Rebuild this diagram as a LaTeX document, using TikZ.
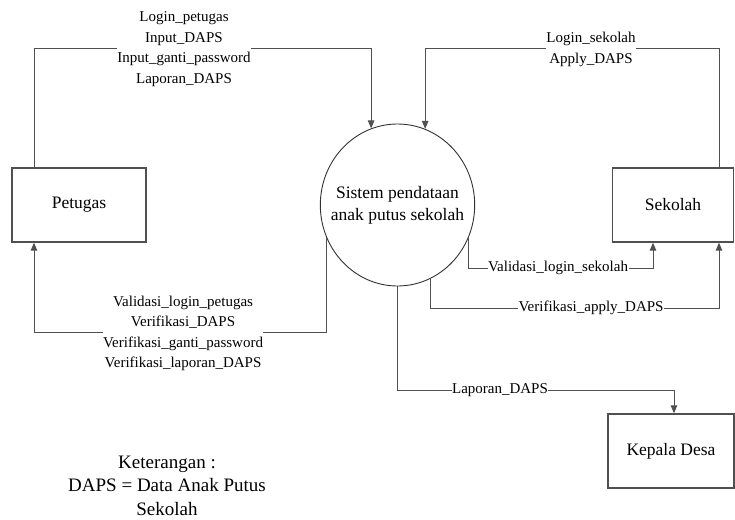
\documentclass[tikz,border=0pt]{standalone}
\usepackage{fontspec}
\setmainfont{Liberation Serif}
\usetikzlibrary{arrows.meta,shapes.geometric}
\definecolor{dfdGray}{RGB}{80,80,80}

\begin{document}
\begin{tikzpicture}[x=1pt, y=-1pt, >={Triangle[length=8pt,width=6.5pt]},
  entity/.style={draw=dfdGray, line width=1.3pt, minimum width=134pt, minimum height=74pt,
    font=\fontsize{17.5}{22}\selectfont},
  process/.style={ellipse, draw=black!80, line width=0.9pt, minimum width=153pt, minimum height=162pt,
    inner xsep=-12pt, inner ysep=0pt, align=center, font=\fontsize{17.5}{22}\selectfont},
  flow/.style={draw=dfdGray, line width=1pt, ->},
  flowlabel/.style={fill=white, inner xsep=0.5pt, inner ysep=0pt, align=center,
    font=\fontsize{15}{20.5}\selectfont}]
\useasboundingbox (0,0) rectangle (735,519);

\node[entity] (petugas) at (79,205) {Petugas};
\node[entity, minimum width=121pt] (sekolah) at (673,205) {Sekolah};
\node[entity, minimum width=126pt] (kepala) at (671,451) {Kepala Desa};
\node[process] (sistem) at (397.5,205) {Sistem pendataan\\anak putus sekolah};

\draw[flow] ([xshift=-45pt]petugas.north) -- ++(0,-119) -| (sistem.109);
\draw[flow] ([xshift=46pt]sekolah.north) -- ++(0,-119) -| (sistem.70);
\draw[flow] (sistem.204) -- ++(0,96) -| ([xshift=-45pt]petugas.south);
\draw[flow] (sistem.-24) -- ++(0,32) -| ([xshift=-20pt]sekolah.south);
\draw[flow] (sistem.-66) -- ++(0,30) -| ([xshift=46pt]sekolah.south);
\draw[flow] (sistem.south) -- ++(0,104) -| ([xshift=3pt]kepala.north);

\node[flowlabel] (lblPetugasIn) at (184,49) {Login\_petugas\\Input\_DAPS\\Input\_ganti\_password\\Laporan\_DAPS};
\node[flowlabel] (lblSekolahIn) at (591,49.5) {Login\_sekolah\\Apply\_DAPS};
\node[flowlabel] (lblPetugasOut) at (183,333.5) {Validasi\_login\_petugas\\Verifikasi\_DAPS\\Verifikasi\_ganti\_password\\Verifikasi\_laporan\_DAPS};
\node[flowlabel] (lblLogin) at (558,268) {Validasi\_login\_sekolah};
\node[flowlabel] (lblApply) at (591,308) {Verifikasi\_apply\_DAPS};
\node[flowlabel] (lblLaporan) at (500,390) {Laporan\_DAPS};

\node[align=center, font=\fontsize{19}{23.5}\selectfont] (keterangan) at (167,485.5)
  {Keterangan :\\DAPS = Data Anak Putus\\Sekolah};
\end{tikzpicture}
\end{document}
